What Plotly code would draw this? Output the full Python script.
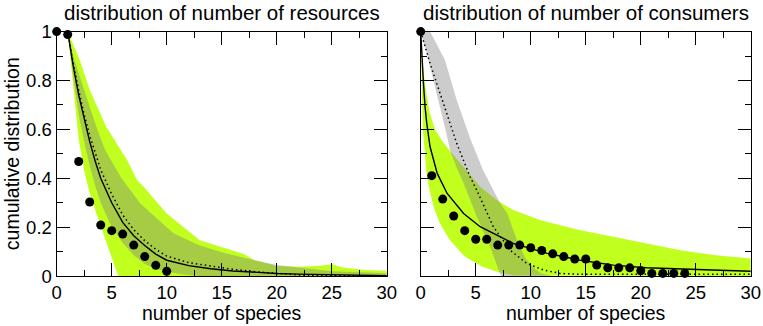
import plotly.graph_objects as go

# ---- left panel: distribution of number of resources ----
res_n = [0, 1, 2, 3, 4, 5, 6, 7, 8, 9, 10]
res_cum = [1.0, 0.988, 0.469, 0.303, 0.209, 0.186, 0.172, 0.127, 0.080, 0.044, 0.020]

res_fit_x = [1, 1.5, 2, 2.5, 3, 3.5, 4, 5, 6, 7, 8, 9, 10, 12, 14, 16, 18, 20, 22, 25, 30]
res_fit_solid = [1.0, 0.86, 0.74, 0.64, 0.55, 0.47, 0.40, 0.30, 0.22, 0.165, 0.125, 0.09, 0.065,
                 0.043, 0.03, 0.021, 0.015, 0.011, 0.008, 0.005, 0.002]
res_fit_dotted = [1.0, 0.87, 0.76, 0.66, 0.575, 0.5, 0.435, 0.335, 0.25, 0.19, 0.145, 0.11, 0.082,
                  0.055, 0.04, 0.028, 0.018, 0.01, 0.005, 0.002, 0.0]

res_green_up_x = [1, 1.5, 2.1, 3.0, 4.5, 6.4, 7.3, 7.9, 10, 13, 15, 17, 18, 20, 22, 24, 25, 26, 28, 30]
res_green_up_y = [1.0, 0.95, 0.884, 0.761, 0.611, 0.475, 0.393, 0.366, 0.256, 0.147, 0.12, 0.09,
                  0.065, 0.041, 0.038, 0.042, 0.049, 0.035, 0.025, 0.022]
res_green_lo_x = [1, 1.5, 2, 2.5, 3, 3.5, 4, 4.5, 5, 5.6, 30]
res_green_lo_y = [1.0, 0.775, 0.56, 0.43, 0.34, 0.27, 0.2, 0.14, 0.075, 0.0, 0.0]

res_gray_up_x = [1, 1.5, 2.4, 3.6, 4.4, 5.8, 7.6, 10.6, 13, 15, 17, 20, 25, 30]
res_gray_up_y = [1.0, 0.9, 0.775, 0.611, 0.516, 0.406, 0.297, 0.175, 0.125, 0.098, 0.075, 0.045, 0.02, 0.012]
res_gray_lo_x = [1, 1.5, 2, 2.5, 3, 3.5, 4, 5, 6, 7, 8, 9, 10, 11.5, 13, 30]
res_gray_lo_y = [1.0, 0.81, 0.66, 0.55, 0.45, 0.37, 0.3, 0.2, 0.135, 0.085, 0.05, 0.03, 0.018, 0.007, 0.0, 0.0]

# ---- right panel: distribution of number of consumers ----
con_n = list(range(0, 25))
con_cum = [1.0, 0.411, 0.315, 0.246, 0.186, 0.151, 0.151, 0.127, 0.127, 0.127, 0.116, 0.105, 0.091,
           0.080, 0.070, 0.070, 0.045, 0.034, 0.034, 0.034, 0.022, 0.011, 0.011, 0.011, 0.011]

con_solid_x = [0, 0.1, 0.25, 0.4, 0.55, 0.85, 1.5, 2.4, 3.9, 5.4, 8.4, 11.5, 14.5, 17.5, 20.5, 26.5, 30]
con_solid_y = [1.0, 0.9, 0.788, 0.69, 0.625, 0.529, 0.42, 0.338, 0.256, 0.202, 0.134, 0.093, 0.065,
               0.045, 0.034, 0.025, 0.02]
con_dotted_x = [0, 0.85, 2.06, 3.27, 4.48, 5.09, 6.6, 8.12, 9.64, 11.15, 12.7, 14.2, 20, 30]
con_dotted_y = [1.0, 0.87, 0.707, 0.543, 0.407, 0.352, 0.202, 0.106, 0.052, 0.025, 0.011, 0.008, 0.008, 0.008]

con_green_up_x = [0, 0.1, 0.4, 0.8, 1.3, 2.0, 2.7, 3.9, 5.4, 6.9, 8.4, 10.9, 14.5, 17.5, 20.5, 23.6, 26.6, 30]
con_green_up_y = [1.0, 0.9, 0.78, 0.67, 0.6, 0.55, 0.51, 0.447, 0.366, 0.311, 0.27, 0.229, 0.188,
                  0.161, 0.134, 0.106, 0.086, 0.072]
con_green_lo_x = [0, 0.05, 0.2, 0.5, 0.8, 1.2, 1.7, 2.6, 4.0, 5.6, 7.2, 8.5, 9.5, 30]
con_green_lo_y = [1.0, 0.85, 0.6, 0.43, 0.35, 0.28, 0.22, 0.15, 0.08, 0.038, 0.014, 0.003, 0.0, 0.0]

con_gray_up_x = [0, 0.85, 2.2, 3.27, 4.48, 5.66, 6.5, 7.2, 7.85, 8.75, 9.5, 10.2, 11, 12]
con_gray_up_y = [1.0, 1.0, 0.884, 0.72, 0.565, 0.434, 0.36, 0.3, 0.258, 0.147, 0.075, 0.035, 0.01, 0.0]
con_gray_lo_x = [0, 0.5, 1, 1.6, 2.2, 2.7, 3.3, 3.9, 5.1, 6.3, 7.3]
con_gray_lo_y = [1.0, 0.92, 0.83, 0.72, 0.61, 0.51, 0.44, 0.38, 0.243, 0.12, 0.0]

green = "#c0ff1e"
gray = "rgba(128,128,128,0.4)"
font = "Liberation Sans, Arial, Helvetica, sans-serif"


def band(fig, xu, yu, xl, yl, color, xa, ya):
    fig.add_trace(go.Scatter(x=list(xu) + list(xl)[::-1], y=list(yu) + list(yl)[::-1],
                             fill="toself", fillcolor=color, mode="lines", line=dict(width=0),
                             hoverinfo="skip", showlegend=False, xaxis=xa, yaxis=ya))


def curves(fig, sx, sy, dx, dy, px, py, xa, ya):
    fig.add_trace(go.Scatter(x=dx, y=dy, mode="lines", line=dict(color="black", width=1.5, dash="1.5px,3px"),
                             showlegend=False, xaxis=xa, yaxis=ya))
    fig.add_trace(go.Scatter(x=sx, y=sy, mode="lines", line=dict(color="black", width=1.4),
                             showlegend=False, xaxis=xa, yaxis=ya))
    fig.add_trace(go.Scatter(x=px, y=py, mode="markers", marker=dict(color="black", size=9),
                             cliponaxis=False, showlegend=False, xaxis=xa, yaxis=ya))


fig = go.Figure()
band(fig, res_green_up_x, res_green_up_y, res_green_lo_x, res_green_lo_y, green, "x", "y")
band(fig, res_gray_up_x, res_gray_up_y, res_gray_lo_x, res_gray_lo_y, gray, "x", "y")
curves(fig, res_fit_x, res_fit_solid, res_fit_x, res_fit_dotted, res_n, res_cum, "x", "y")

band(fig, con_green_up_x, con_green_up_y, con_green_lo_x, con_green_lo_y, green, "x2", "y2")
band(fig, con_gray_up_x, con_gray_up_y, con_gray_lo_x, con_gray_lo_y, gray, "x2", "y2")
curves(fig, con_solid_x, con_solid_y, con_dotted_x, con_dotted_y, con_n, con_cum, "x2", "y2")

ax = dict(showline=True, linecolor="black", linewidth=1.3, mirror="ticks", ticks="inside",
          tickwidth=1.3, tickcolor="black", ticklen=13, showgrid=False, zeroline=False,
          automargin=False, tickfont=dict(family=font, size=18.5, color="black"))
xminor = dict(ticks="inside", ticklen=6, dtick=2.5, tickcolor="black", tickwidth=1.3, showgrid=False)
yminor = dict(ticks="inside", ticklen=6, dtick=0.1, tickcolor="black", tickwidth=1.3, showgrid=False)

fig.update_layout(
    width=763, height=326,
    margin=dict(l=0, r=0, t=0, b=0, autoexpand=False),
    paper_bgcolor="white", plot_bgcolor="white",
    font=dict(family=font, size=19.5, color="black"),
    xaxis=dict(ax, domain=[0.0743, 0.507], range=[0, 30], tickmode="linear", tick0=0, dtick=5,
               minor=xminor, anchor="y"),
    yaxis=dict(ax, domain=[0.153, 0.903], range=[0, 1], tickmode="linear", tick0=0, dtick=0.2,
               minor=yminor, anchor="x"),
    xaxis2=dict(ax, domain=[0.5514, 0.984], range=[0, 30], tickmode="linear", tick0=0, dtick=5,
                minor=xminor, anchor="y2"),
    yaxis2=dict(ax, domain=[0.153, 0.903], range=[0, 1], tickmode="linear", tick0=0, dtick=0.2,
                minor=yminor, anchor="x2", showticklabels=False),
    annotations=[
        dict(text="distribution of number of resources", x=0.2905, y=0.963, xref="paper", yref="paper",
             showarrow=False, xanchor="center", yanchor="middle", font=dict(size=20.5)),
        dict(text="distribution of number of consumers", x=0.7677, y=0.963, xref="paper", yref="paper",
             showarrow=False, xanchor="center", yanchor="middle", font=dict(size=20.5)),
        dict(text="number of species", x=0.2905, y=0.04, xref="paper", yref="paper",
             showarrow=False, xanchor="center", yanchor="middle"),
        dict(text="number of species", x=0.7677, y=0.04, xref="paper", yref="paper",
             showarrow=False, xanchor="center", yanchor="middle"),
        dict(text="cumulative distribution", x=0.0157, y=0.53, xref="paper", yref="paper",
             showarrow=False, xanchor="center", yanchor="middle", textangle=-90),
    ],
)

# the page's default 8px body margin would push the figure out of the window
fig.write_html("out.html", config={"displayModeBar": False},
               post_script="document.body.style.margin = '0';")
